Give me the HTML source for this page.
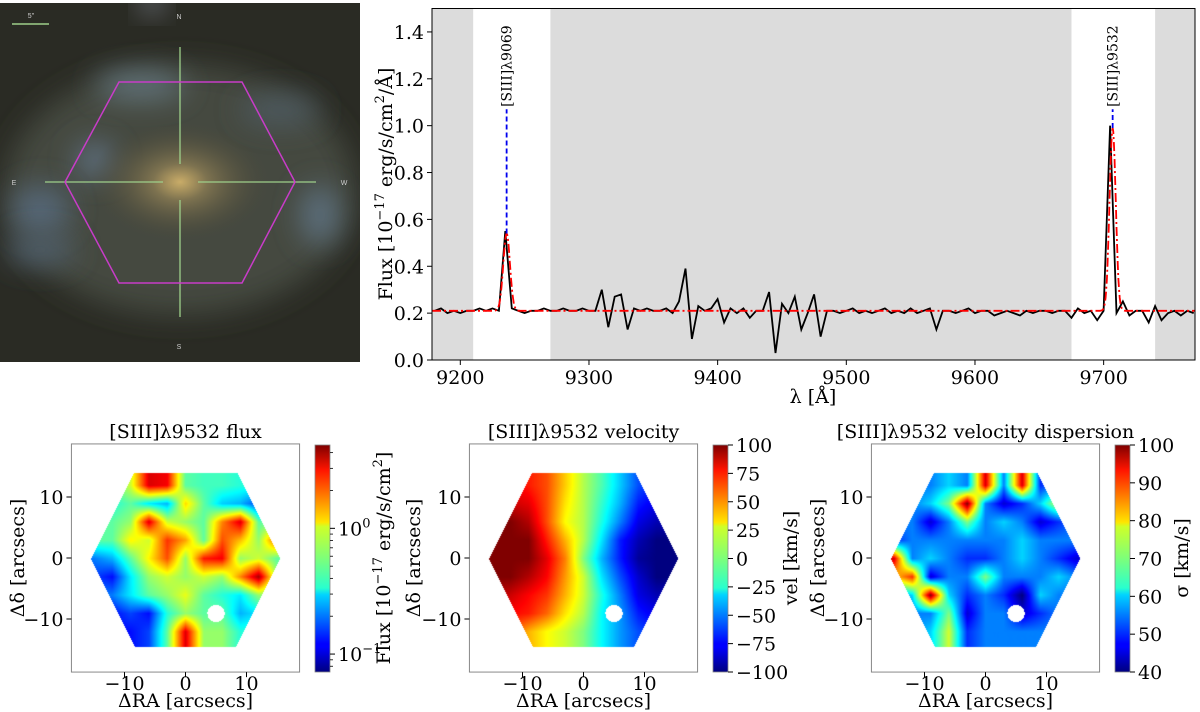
<!DOCTYPE html>
<html><head><meta charset="utf-8"><style>
body{margin:0;background:#fff;width:1200px;height:712px;overflow:hidden;position:relative;font-family:"DejaVu Serif","Liberation Serif",serif}
svg{position:absolute;left:0;top:0}
canvas{position:absolute}
</style></head><body>
<svg id="s" width="1200" height="712" xmlns="http://www.w3.org/2000/svg">
<defs>
<filter id="bl" x="-100%" y="-100%" width="300%" height="300%"><feGaussianBlur stdDeviation="14"/></filter>
<radialGradient id="core"><stop offset="0" stop-color="#c9ac68"/><stop offset="0.3" stop-color="#7e7350"/><stop offset="1" stop-color="#4a4838" stop-opacity="0"/></radialGradient>
<linearGradient id="jet" x1="0" y1="1" x2="0" y2="0">
<stop offset="0" stop-color="#00007f"/><stop offset="0.11" stop-color="#0000ff"/><stop offset="0.125" stop-color="#0000ff"/><stop offset="0.34" stop-color="#00d4ff"/><stop offset="0.37" stop-color="#29ffce"/><stop offset="0.5" stop-color="#7dff7a"/><stop offset="0.64" stop-color="#ceff29"/><stop offset="0.66" stop-color="#ffe500"/><stop offset="0.89" stop-color="#ff1400"/><stop offset="1" stop-color="#7f0000"/></linearGradient>
<clipPath id="imclip"><rect x="0" y="3" width="360" height="359"/></clipPath>
</defs>
<g clip-path="url(#imclip)">
<rect x="0" y="3" width="360" height="359" fill="#2a2b24"/>
<ellipse cx="180" cy="190" rx="175" ry="125" fill="#454a41" filter="url(#bl)"/>
<ellipse cx="140" cy="85" rx="45" ry="14" fill="#64767e" filter="url(#bl)"/>
<ellipse cx="95" cy="160" rx="20" ry="18" fill="#5f7080" filter="url(#bl)"/>
<ellipse cx="40" cy="210" rx="30" ry="25" fill="#556676" filter="url(#bl)"/>
<ellipse cx="320" cy="215" rx="20" ry="30" fill="#5c6e7c" filter="url(#bl)"/>
<ellipse cx="40" cy="250" rx="35" ry="15" fill="#4f5f6c" filter="url(#bl)"/>
<ellipse cx="280" cy="110" rx="40" ry="15" fill="#4d5a60" filter="url(#bl)"/>
<ellipse cx="180" cy="182" rx="90" ry="60" fill="url(#core)"/>
<circle cx="152" cy="2" r="8" fill="#c8d0f0" filter="url(#bl)"/>
<line x1="12" y1="24" x2="49" y2="24" stroke="#9ed08a" stroke-width="1.5"/>
<text x="31" y="18" font-size="7" fill="#ccc" text-anchor="middle" font-family="Liberation Sans">5"</text>
<text x="179" y="19" font-size="7" fill="#ccc" text-anchor="middle" font-family="Liberation Sans">N</text>
<text x="179" y="349" font-size="7" fill="#ccc" text-anchor="middle" font-family="Liberation Sans">S</text>
<text x="14" y="185" font-size="7" fill="#ccc" text-anchor="middle" font-family="Liberation Sans">E</text>
<text x="344" y="185" font-size="7" fill="#ccc" text-anchor="middle" font-family="Liberation Sans">W</text>
<g stroke="#9ed08a" stroke-width="1.3">
<line x1="180" y1="47" x2="180" y2="164"/><line x1="180" y1="200" x2="180" y2="317"/>
<line x1="45" y1="182" x2="163" y2="182"/><line x1="198" y1="182" x2="316" y2="182"/></g>
<polygon points="65,182 119,82 242,82 295,182 242,283 119,283" fill="none" stroke="#c83cc8" stroke-width="1.5"/>
</g>
<g id="spec"></g>
<g id="maps"></g>
</svg>
<script>
// ---- spectrum data ----
const specStart = 9180, specStep = 5;
const specFlux = [.21,.22,.20,.21,.20,.21,.21,.22,.21,.22,.21,.55,.22,.21,.20,.21,.21,.22,.21,.21,.22,.21,.21,.22,.21,.21,.30,.14,.27,.28,.13,.22,.21,.22,.21,.21,.22,.20,.25,.39,.09,.23,.21,.22,.26,.16,.22,.20,.22,.18,.21,.21,.29,.03,.24,.20,.27,.13,.20,.28,.10,.21,.21,.20,.21,.22,.20,.21,.20,.21,.22,.20,.21,.20,.22,.20,.21,.22,.13,.21,.21,.20,.21,.22,.20,.21,.21,.19,.20,.21,.20,.19,.21,.20,.21,.21,.20,.21,.21,.18,.22,.20,.21,.17,.21,1.0,.20,.25,.19,.21,.21,.16,.23,.17,.20,.21,.19,.21,.20];
const modelBase = 0.21;
const lineCenters = [9236, 9707];
const lineAmps = [0.33, 0.78];
const lineSigma = [2.6, 2.4];
const lineNames = ["[SIII]λ9069", "[SIII]λ9532"];
const fitWindows = [[9210, 9270], [9675, 9740]];
const yTicks = [0.0,0.2,0.4,0.6,0.8,1.0,1.2,1.4];
const xTicks = [9200,9300,9400,9500,9600,9700];

const NS="http://www.w3.org/2000/svg";
const FS=19;
function mk(tag, attrs, parent, text){const e=document.createElementNS(NS,tag);for(const k in attrs)e.setAttribute(k,attrs[k]);if(text!==undefined)e.textContent=text;parent.appendChild(e);return e;}
const spec=document.getElementById('spec');
const AX0=432,AX1=1195,AY0=8.5,AY1=360,WMIN=9178,WMAX=9771,FMAX=1.5;
const sx=w=>AX0+(w-WMIN)*(AX1-AX0)/(WMAX-WMIN);
const sy=v=>AY1-v*(AY1-AY0)/FMAX;
let r=mk('rect',{x:AX0,y:AY0,width:AX1-AX0,height:AY1-AY0,fill:'#dcdcdc'},spec);


fitWindows.forEach(w=>{const e=mk('rect',{x:sx(w[0]),y:AY0,width:sx(w[1])-sx(w[0]),height:AY1-AY0,fill:'#fff'},spec);

});
let pts=specFlux.map((v,i)=>sx(specStart+i*specStep).toFixed(1)+','+sy(v).toFixed(1)).join(' ');
let pl=mk('polyline',{points:pts,fill:'none',stroke:'#000','stroke-width':1.8},spec);


let mp=[];for(let w=WMIN;w<=WMAX;w+=0.5){let v=modelBase;lineCenters.forEach((c,i)=>{v+=lineAmps[i]*Math.exp(-0.5*((w-c)/lineSigma[i])**2)});mp.push(sx(w).toFixed(1)+','+sy(v).toFixed(1));}
let ml=mk('polyline',{points:mp.join(' '),fill:'none',stroke:'#ff0000','stroke-width':1.8,'stroke-dasharray':'9,3,2,3'},spec);


lineCenters.forEach((c,i)=>{
 const x=sx(c);
 const l=mk('line',{x1:x,x2:x,y1:sy(modelBase+lineAmps[i]),y2:sy(1.07),stroke:'#0000ee','stroke-width':1.8,'stroke-dasharray':'5,3'},spec);
 
 
 const t=mk('text',{x:x+5,y:sy(1.08),'font-size':14,transform:`rotate(-90 ${x+5} ${sy(1.08)})`},spec,lineNames[i]);
 
 
});
let fr=mk('rect',{x:AX0,y:AY0,width:AX1-AX0,height:AY1-AY0,fill:'none',stroke:'#000','stroke-width':1},spec);


yTicks.forEach(v=>{mk('line',{x1:AX0-5,x2:AX0,y1:sy(v),y2:sy(v),stroke:'#000'},spec);
 const t=mk('text',{x:AX0-8,y:sy(v)+7,'font-size':FS,'text-anchor':'end'},spec,v.toFixed(1));
 
 });
xTicks.forEach(v=>{mk('line',{x1:sx(v),x2:sx(v),y1:AY1,y2:AY1+5,stroke:'#000'},spec);
 const t=mk('text',{x:sx(v),y:AY1+24,'font-size':FS,'text-anchor':'middle'},spec,v);
 
 });
let yl=mk('text',{x:0,y:0,'font-size':FS,'text-anchor':'middle',transform:'translate(392,184) rotate(-90)'},spec);
yl.innerHTML='Flux [10<tspan dy="-8" font-size="13">−17</tspan><tspan dy="8"> erg/s/cm</tspan><tspan dy="-8" font-size="13">2</tspan><tspan dy="8">/Å]</tspan>';


let xl=mk('text',{x:813,y:403,'font-size':FS,'text-anchor':'middle','font-style':'normal'},spec,'λ [Å]');



// ---- map data (grid x=-15..15 step 3, rows y=15..-15 step 3) ----
const gridX=[-15,-12,-9,-6,-3,0,3,6,9,12,15];
const gridY=[15,12,9,6,3,0,-3,-6,-9,-12,-15];
const fluxLog=[
[-0.3,-0.3,-0.1,0.5,0.45,-0.3,-0.35,-0.35,-0.4,-0.4,-0.4],
[-0.3,-0.3,-0.1,0.5,0.45,-0.3,-0.35,-0.35,-0.4,-0.4,-0.4],
[-0.4,-0.4,-0.3,-0.5,-0.6,0.05,-0.3,-0.55,-0.6,-0.8,-0.8],
[-0.3,-0.3,-0.2,0.5,-0.1,-0.2,-0.3,0.2,0.5,-0.3,-0.3],
[-0.3,-0.3,0.0,-0.1,0.35,0.15,-0.3,0.3,0.1,-0.2,0.3],
[-0.7,-0.6,-0.3,0.0,0.3,-0.2,0.4,0.45,-0.2,-0.1,-0.3],
[-0.8,-0.9,-0.5,-0.2,-0.1,-0.2,-0.1,-0.2,0.2,0.6,-0.2],
[-0.7,-0.7,-0.5,-0.3,-0.2,-0.05,-0.3,-0.4,-0.5,-0.2,-0.3],
[-0.9,-0.9,-0.8,-0.9,-0.4,-0.2,-0.3,-0.3,-0.6,-0.5,-0.5],
[-0.9,-0.9,-0.9,-0.8,-0.3,0.5,-0.2,-0.2,-0.4,-0.4,-0.4],
[-0.9,-0.9,-0.9,-0.8,-0.3,0.5,-0.2,-0.2,-0.4,-0.4,-0.4]];
const velocity=[
[80,80,70,60,35,10,-10,-35,-60,-70,-70],
[80,80,70,60,35,10,-10,-35,-60,-70,-70],
[90,85,80,60,30,10,-15,-40,-70,-80,-80],
[100,100,90,60,25,10,-20,-50,-80,-90,-90],
[100,100,100,70,40,10,-30,-70,-90,-100,-100],
[100,100,100,80,50,0,-40,-70,-95,-100,-100],
[100,100,90,75,45,15,-30,-60,-85,-100,-100],
[90,85,75,65,40,15,-20,-50,-80,-90,-90],
[80,75,70,55,30,10,-25,-45,-70,-80,-80],
[60,60,40,25,15,0,-25,-45,-60,-70,-70],
[60,60,40,25,15,0,-25,-45,-60,-70,-70]];
const dispersion=[
[55,55,55,60,55,95,55,95,50,55,55],
[55,55,55,60,55,95,55,95,50,55,55],
[55,55,60,70,100,55,45,50,60,75,75],
[55,55,45,55,70,55,60,55,45,50,55],
[50,55,55,55,55,55,55,60,55,55,55],
[95,55,60,55,50,50,55,60,55,50,45],
[80,90,45,55,55,70,55,55,55,60,55],
[55,60,100,60,50,55,50,40,60,55,55],
[55,55,55,70,45,55,55,45,50,55,55],
[55,55,60,75,50,55,55,55,55,55,55],
[55,55,60,75,50,55,55,55,55,55,55]];
const fluxCbTicks=[0,-1];
const velCbTicks=[100,75,50,25,0,-25,-50,-75,-100];
const dispCbTicks=[100,90,80,70,60,50,40];

function jet(t){t=Math.max(0,Math.min(1,t));
 const f=(a)=>Math.max(0,Math.min(1,1.5-Math.abs(4*t-a)));
 return [f(3)*255,f(2)*255,f(1)*255];}
function interp(grid,x,y){
 let fx=(x-gridX[0])/3, fy=(gridY[0]-y)/3;
 fx=Math.max(0,Math.min(gridX.length-1.001,fx));fy=Math.max(0,Math.min(gridY.length-1.001,fy));
 const i=Math.floor(fx),j=Math.floor(fy),a=fx-i,b=fy-j;
 return grid[j][i]*(1-a)*(1-b)+grid[j][i+1]*a*(1-b)+grid[j+1][i]*(1-a)*b+grid[j+1][i+1]*a*b;}
const maps=document.getElementById('maps');
const PX=6.1, LIM=18.7, CY=558;
const panels=[
 {cx:185.5,grid:fluxLog,vmin:Math.log10(0.072),vmax:Math.log10(4.6),cbx:315,title:'[SIII]λ9532 flux',name:'flux-map',ylabx:24,cblx:390},
 {cx:583.5,grid:velocity,vmin:-100,vmax:100,cbx:713,title:'[SIII]λ9532 velocity',name:'velocity-map',ylabx:420,cblx:797,ticks:velCbTicks,cbl:'vel [km/s]'},
 {cx:985.5,grid:dispersion,vmin:40,vmax:100,cbx:1115,title:'[SIII]λ9532 velocity dispersion',name:'dispersion-map',ylabx:824,cblx:1188,ticks:dispCbTicks,cbl:'σ [km/s]'}];
const CBT=445,CBB=672;
panels.forEach((p,k)=>{
 const L=p.cx-LIM*PX, T=CY-LIM*PX, W=2*LIM*PX;
 const cv=document.createElement('canvas');
 cv.width=Math.round(W);cv.height=Math.round(W);
 cv.style.left=L+'px';cv.style.top=T+'px';
 
 
 document.body.appendChild(cv);
 const ctx=cv.getContext('2d');const im=ctx.createImageData(cv.width,cv.height);
 for(let py=0;py<cv.height;py++)for(let px=0;px<cv.width;px++){
  const x=(px-W/2)/PX, y=(W/2-py)/PX;
  if(y>14||y<-14.5||Math.abs(x)>15.5-0.5*Math.abs(y))continue;
  if((x-5)**2+(y+9)**2<2.0)continue;
  const v=interp(p.grid,x,y);const c=jet((v-p.vmin)/(p.vmax-p.vmin));
  const o=(py*cv.width+px)*4;im.data[o]=c[0];im.data[o+1]=c[1];im.data[o+2]=c[2];im.data[o+3]=255;}
 ctx.putImageData(im,0,0);
 const g=mk('g',{},maps);
 
 
 mk('text',{x:p.cx,y:CY+4,'font-size':10,fill:'#fff','text-anchor':'middle'},g,'×');
 mk('rect',{x:L,y:T,width:W,height:W,fill:'none',stroke:'#888','stroke-width':1},g);
 [-10,0,10].forEach(v=>{
  const xx=p.cx+v*PX, yy=CY-v*PX;
  mk('line',{x1:xx,x2:xx,y1:T+W,y2:T+W+5,stroke:'#000'},g);
  mk('line',{x1:L-5,x2:L,y1:yy,y2:yy,stroke:'#000'},g);
  const lab=v<0?'−'+Math.abs(v):String(v);
  const tx=mk('text',{x:xx,y:T+W+18,'font-size':FS,'text-anchor':'middle'},g,lab);
  
  
  const ty=mk('text',{x:L-8,y:yy+7,'font-size':FS,'text-anchor':'end'},g,lab);
  
  });
 const tt=mk('text',{x:p.cx,y:438,'font-size':FS,'text-anchor':'middle'},g,p.title);
 
 
 const xt=mk('text',{x:p.cx,y:707,'font-size':FS,'text-anchor':'middle'},g,'ΔRA [arcsecs]');
 
 
 const yt=mk('text',{x:0,y:0,'font-size':FS,'text-anchor':'middle',transform:`translate(${p.ylabx},${CY}) rotate(-90)`},g,'Δδ [arcsecs]');
 
 
 const cb=mk('rect',{x:p.cbx,y:CBT,width:15,height:CBB-CBT,fill:'url(#jet)',stroke:'#888','stroke-width':0.8},g);
 
 
 const cy=v=>CBB-(v-p.vmin)/(p.vmax-p.vmin)*(CBB-CBT);
 if(k===0){
  fluxCbTicks.forEach(v=>{const y=cy(v);mk('line',{x1:p.cbx+15,x2:p.cbx+20,y1:y,y2:y,stroke:'#000'},g);
   const t=mk('text',{x:p.cbx+23,y:y+7,'font-size':FS},g);
   t.innerHTML='10<tspan dy="-8" font-size="13">'+(v<0?'−1':'0')+'</tspan>';
   
   });
  [0.08,0.09,0.2,0.3,0.4,0.5,0.6,0.7,0.8,0.9,2,3,4].forEach(m=>{const y=cy(Math.log10(m));mk('line',{x1:p.cbx+15,x2:p.cbx+18,y1:y,y2:y,stroke:'#000','stroke-width':0.8},g);});
  const cl=mk('text',{x:0,y:0,'font-size':FS,'text-anchor':'middle',transform:`translate(${p.cblx},${CY}) rotate(-90)`},g);
  cl.innerHTML='Flux [10<tspan dy="-8" font-size="13">−17</tspan><tspan dy="8"> erg/s/cm</tspan><tspan dy="-8" font-size="13">2</tspan><tspan dy="8">]</tspan>';
  
  
 } else {
  p.ticks.forEach(v=>{const y=cy(v);mk('line',{x1:p.cbx+15,x2:p.cbx+20,y1:y,y2:y,stroke:'#000'},g);
   const t=mk('text',{x:p.cbx+23,y:y+7,'font-size':FS},g,v<0?'−'+Math.abs(v):String(v));
   
   });
  const cl=mk('text',{x:0,y:0,'font-size':FS,'text-anchor':'middle',transform:`translate(${p.cblx},${CY}) rotate(-90)`},g,p.cbl);
  
  
 }
});
</script>
</body></html>
